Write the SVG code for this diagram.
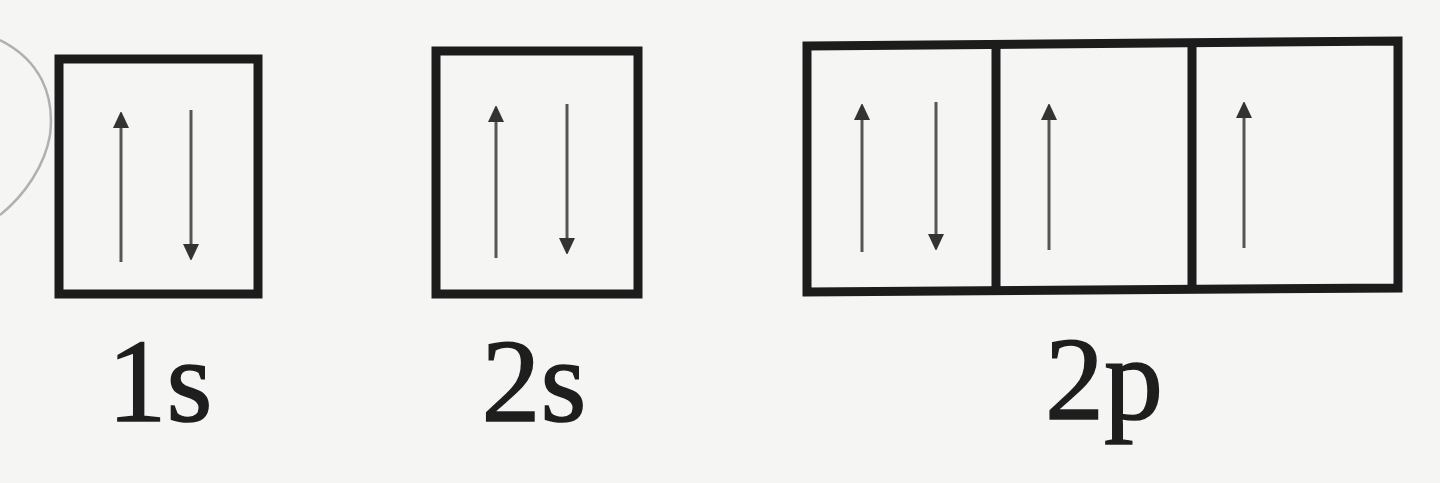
<svg xmlns="http://www.w3.org/2000/svg" width="1440" height="483" viewBox="0 0 1440 483">
<style>
.box{fill:none;stroke:#1c1c1c;stroke-width:9;stroke-linejoin:miter}
.arr{stroke:#555;stroke-width:3;fill:none}
.lbl{font-family:"Liberation Serif","Times New Roman",serif;font-size:118px;fill:#1e1e1e;stroke:#1e1e1e;stroke-width:1.5;text-anchor:middle}
</style>
<defs>
<marker id="head" markerUnits="userSpaceOnUse" markerWidth="16" markerHeight="18" refX="8" refY="9" orient="auto" viewBox="0 0 16 18">
<path d="M0,17 L8,0 L16,17 Z" fill="#333" transform="rotate(90 8 9)"/>
</marker>
</defs>
<rect width="1440" height="483" fill="#f5f5f3"/>
<path d="M0,40 C40,60 55,95 50,135 C45,165 25,195 0,215" fill="none" stroke="#b0b0b0" stroke-width="2.5"/>
<g id="orbital-1s">
<rect class="box" x="59" y="59" width="199" height="235"/>
<g class="arrows">
<line class="arr" x1="121" y1="262" x2="121" y2="120" marker-end="url(#head)"/>
<line class="arr" x1="191" y1="110" x2="191" y2="252" marker-end="url(#head)"/>
</g>
<text class="lbl" x="160" y="421">1s</text>
</g>
<g id="orbital-2s">
<rect class="box" x="436" y="51" width="202" height="243"/>
<g class="arrows">
<line class="arr" x1="496" y1="258" x2="496" y2="114" marker-end="url(#head)"/>
<line class="arr" x1="567" y1="104" x2="567" y2="246" marker-end="url(#head)"/>
</g>
<text class="lbl" x="534" y="421">2s</text>
</g>
<g id="orbital-2p">
<path class="box" d="M807,46 L1398,41 L1398,288 L807,292 Z"/>
<line class="box" x1="996" y1="44" x2="996" y2="290"/>
<line class="box" x1="1192" y1="42" x2="1192" y2="289"/>
<g class="arrows">
<line class="arr" x1="862" y1="252" x2="862" y2="112" marker-end="url(#head)"/>
<line class="arr" x1="936" y1="102" x2="936" y2="242" marker-end="url(#head)"/>
<line class="arr" x1="1049" y1="250" x2="1049" y2="112" marker-end="url(#head)"/>
<line class="arr" x1="1244" y1="248" x2="1244" y2="110" marker-end="url(#head)"/>
</g>
<text class="lbl" x="1104" y="419">2p</text>
</g>
</svg>
